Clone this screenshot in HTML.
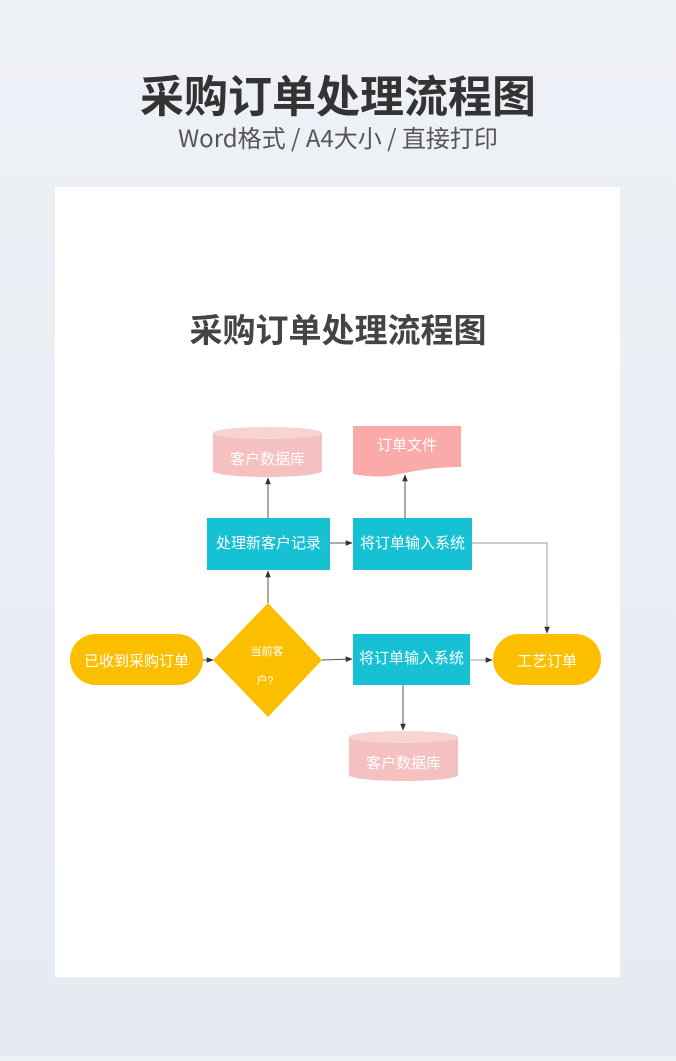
<!DOCTYPE html>
<html><head><meta charset="utf-8"><style>
html,body{margin:0;padding:0}
body{width:676px;height:1056px;background:linear-gradient(#eef1f6,#e6eaf1);overflow:hidden;font-family:"Liberation Sans","Noto Sans CJK SC",sans-serif}
</style></head><body>
<svg width="676" height="1056" viewBox="0 0 676 1056" xmlns="http://www.w3.org/2000/svg" font-family="Liberation Sans, Noto Sans CJK SC, sans-serif">
<defs>
<marker id="a" viewBox="0 0 10 10" refX="9" refY="5" markerWidth="7" markerHeight="7" orient="auto-start-reverse"><path d="M0,1 L10,5 L0,9 z" fill="#333"/></marker>
</defs>
<text x="338" y="112" text-anchor="middle" font-size="44" font-weight="bold" fill="#333">采购订单处理流程图</text>
<text x="338" y="147" text-anchor="middle" font-size="24" fill="#555" font-family="Noto Sans CJK SC, sans-serif">Word格式 / A4大小 / 直接打印</text>
<rect x="55" y="187" width="565" height="790" fill="#fff"/>
<text x="338" y="342" text-anchor="middle" font-size="33" font-weight="bold" fill="#444">采购订单处理流程图</text>

<g stroke="#555" stroke-width="1" fill="none">
<line x1="268" y1="603" x2="268" y2="571" marker-end="url(#a)"/>
<line x1="268" y1="518" x2="268" y2="478" marker-end="url(#a)"/>
<line x1="330" y1="543" x2="352" y2="543" marker-end="url(#a)"/>
<line x1="405" y1="518" x2="405" y2="475" marker-end="url(#a)"/>
<polyline points="472,543 547,543 547,633" stroke="#999" marker-end="url(#a)"/>
<line x1="203" y1="660" x2="213" y2="660" marker-end="url(#a)"/>
<line x1="322" y1="660" x2="352" y2="659" marker-end="url(#a)"/>
<line x1="470" y1="660" x2="492" y2="660" stroke="#999" marker-end="url(#a)"/>
<line x1="403" y1="685" x2="403" y2="730" marker-end="url(#a)"/>
</g>

<path d="M213,433 L213,471 A54.5,6 0 0 0 322,471 L322,433 Z" fill="#f4c0c0"/>
<ellipse cx="267.5" cy="433" rx="54.5" ry="6" fill="#f7d4d4"/>
<text x="267.5" y="464" text-anchor="middle" font-size="15" fill="#fff">客户数据库</text>

<path d="M353,426 L461,426 L461,467 C430,467 410,472 395,475 C380,478 365,476 353,474 Z" fill="#fbaaaa"/>
<text x="407" y="450" text-anchor="middle" font-size="15" fill="#fff">订单文件</text>

<rect x="207" y="518" width="123" height="52" fill="#17c1d4"/>
<text x="268.5" y="548" text-anchor="middle" font-size="15" fill="#fff">处理新客户记录</text>
<rect x="353" y="518" width="119" height="52" fill="#17c1d4"/>
<text x="412.5" y="548" text-anchor="middle" font-size="15" fill="#fff">将订单输入系统</text>
<rect x="353" y="634" width="117" height="51" fill="#17c1d4"/>
<text x="411.5" y="663" text-anchor="middle" font-size="15" fill="#fff">将订单输入系统</text>

<rect x="70" y="634" width="133" height="51" rx="25.5" fill="#fcbf00"/>
<text x="136.5" y="666" text-anchor="middle" font-size="15" fill="#fff">已收到采购订单</text>
<rect x="493" y="634" width="108" height="51" rx="25.5" fill="#fcbf00"/>
<text x="547" y="666" text-anchor="middle" font-size="15" fill="#fff">工艺订单</text>

<polygon points="268,603 322,660 268,717 213,660" fill="#fcbf00"/>
<text x="267" y="655" text-anchor="middle" font-size="11" fill="#fff">当前客</text>
<text x="265" y="684" text-anchor="middle" font-size="11" fill="#fff">户?</text>

<path d="M349,737 L349,775 A54.5,6 0 0 0 458,775 L458,737 Z" fill="#f4c0c0"/>
<ellipse cx="403.5" cy="737" rx="54.5" ry="6" fill="#f7d4d4"/>
<text x="403.5" y="768" text-anchor="middle" font-size="15" fill="#fff">客户数据库</text>
</svg>
</body></html>
